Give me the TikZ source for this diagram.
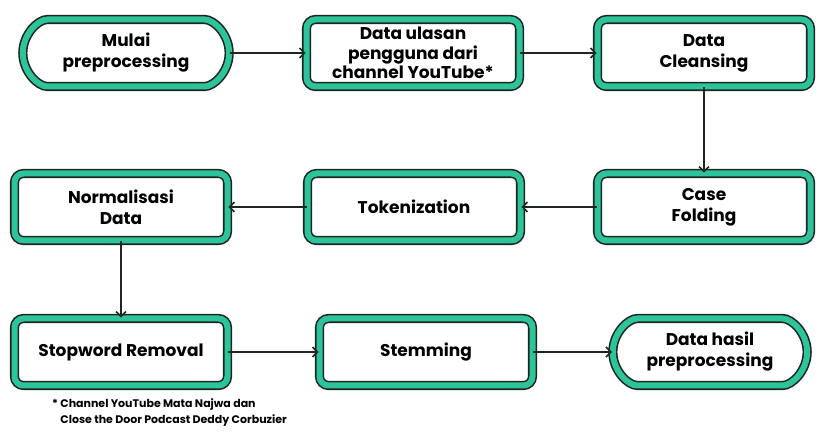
\documentclass[tikz,border=0pt]{standalone}
\usepackage{fontspec}
\setmainfont{Poppins}
\usepackage{tikz}
\usetikzlibrary{shapes.misc,arrows.meta}
\definecolor{bandteal}{RGB}{46,196,155}
\definecolor{edgedark}{RGB}{30,38,34}

\begin{document}
\begin{tikzpicture}[x=1pt, y=-1pt,
  stepbox/.style={draw=edgedark, line width=1.6pt, double=bandteal, double distance=6pt,
    fill=white, rounded corners=9pt, minimum width=213pt, minimum height=67pt,
    inner ysep=0pt, align=center, font=\fontsize{17}{21}\selectfont\bfseries},
  terminal/.style={stepbox, rounded rectangle, minimum width=213pt},
  flow/.style={draw=edgedark, line width=1.6pt, -{Straight Barb[length=5pt,width=10pt]}}]
  \useasboundingbox (0,0) rectangle (823,435);

  \node[terminal] (mulai) at (126,53) {Mulai\\preprocessing};
  \node[stepbox, font=\fontsize{17}{19.5}\selectfont\bfseries] (ulasan) at (413,53)
    {Data ulasan\\pengguna dari\\channel YouTube*};
  \node[stepbox] (cleansing) at (704,53) {Data\\Cleansing};

  \node[stepbox] (normal) at (121,207) {Normalisasi\\Data};
  \node[stepbox] (token) at (414,207) {Tokenization};
  \node[stepbox] (casefold) at (704,207) {Case\\Folding};

  \node[stepbox] (stopword) at (121,352) {Stopword Removal};
  \node[stepbox] (stemming) at (426,352) {Stemming};
  \node[terminal, minimum width=201pt] (hasil) at (710,352) {Data hasil\\preprocessing};

  \draw[flow] (mulai) -- (ulasan);
  \draw[flow] (ulasan) -- (cleansing);
  \draw[flow] (cleansing) -- (casefold);
  \draw[flow] (casefold) -- (token);
  \draw[flow] (token) -- (normal);
  \draw[flow] (normal) -- (stopword);
  \draw[flow] (stopword) -- (stemming);
  \draw[flow] (stemming) -- (hasil);

  \node[anchor=north west, inner sep=0pt, align=left, font=\fontsize{11}{16}\selectfont\bfseries]
    (note) at (52,398) {* Channel YouTube Mata Najwa dan\\\phantom{* }Close the Door Podcast Deddy Corbuzier};
\end{tikzpicture}
\end{document}
